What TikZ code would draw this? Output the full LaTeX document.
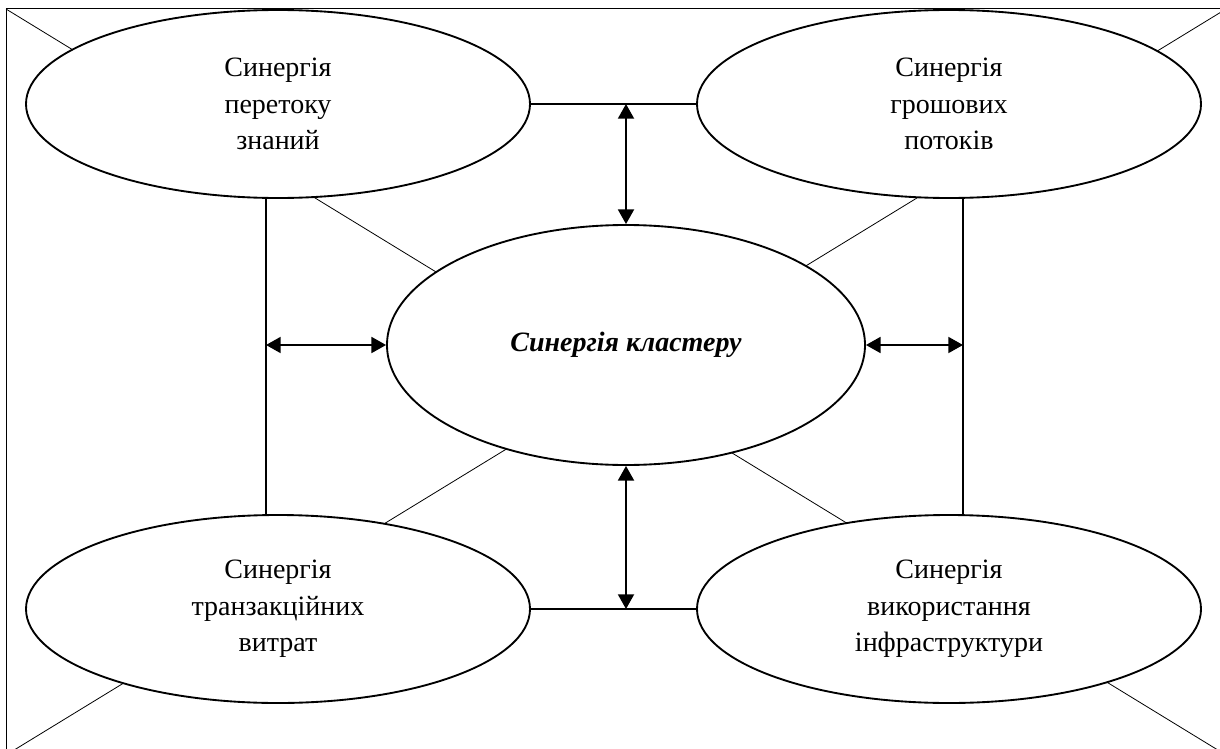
\documentclass[tikz,border=0pt]{standalone}
\usepackage{fontspec}
\setmainfont{Liberation Serif}
\usetikzlibrary{shapes.geometric,arrows.meta}
\begin{document}
\begin{tikzpicture}[x=0.75pt,y=-0.75pt,
  oval/.style={ellipse,draw,line width=1.4pt,fill=white,inner sep=0pt,align=center,
    font=\fontsize{21}{27.5}\selectfont},
  side/.style={oval,minimum width=378pt,minimum height=141pt},
  thinline/.style={line width=0.6pt},
  link/.style={line width=1.2pt},
  dbl/.style={line width=1.4pt,{Triangle[length=11pt,width=12pt]}-{Triangle[length=11pt,width=12pt]}}]
\useasboundingbox (0,0) rectangle (1220,749);
\clip (0,0) rectangle (1220,749);
% frame corners
\coordinate (A) at (6,9);
\coordinate (B) at (1226,9);
\coordinate (Cc) at (1226,755);
\coordinate (D) at (6,755);
\draw[line width=0.75pt] (A) rectangle (Cc);
\draw[thinline] (A) -- (Cc);
\draw[thinline] (B) -- (D);
% ellipses
\node[side] (TL) at (278,104) {Синергія\\перетоку\\знаний};
\node[side] (TR) at (949,104) {Синергія\\грошових\\потоків};
\node[side] (BL) at (278,609) {Синергія\\транзакційних\\витрат};
\node[side] (BR) at (949,609) {Синергія\\використання\\інфраструктури};
\node[oval,minimum width=358.5pt,minimum height=180pt,font=\fontsize{21}{27.5}\selectfont\bfseries\itshape] (C) at (626,345) {Синергія кластеру};
% vertical side lines
\coordinate (vl) at (266,0);
\coordinate (vr) at (963,0);
\draw[link] (vl |- TL.south) -- (vl |- BL.north);
\draw[link] (vr |- TR.south) -- (vr |- BR.north);
% horizontal links
\draw[link] (TL.east) -- (TR.west);
\draw[link] (BL.east) -- (BR.west);
% arrows
\draw[dbl] (C.north |- TL.east) -- (C.north);
\draw[dbl] (C.south) -- (C.south |- BL.east);
\draw[dbl] (vl |- C.west) -- (C.west);
\draw[dbl] (C.east) -- (vr |- C.east);
\end{tikzpicture}
\end{document}
